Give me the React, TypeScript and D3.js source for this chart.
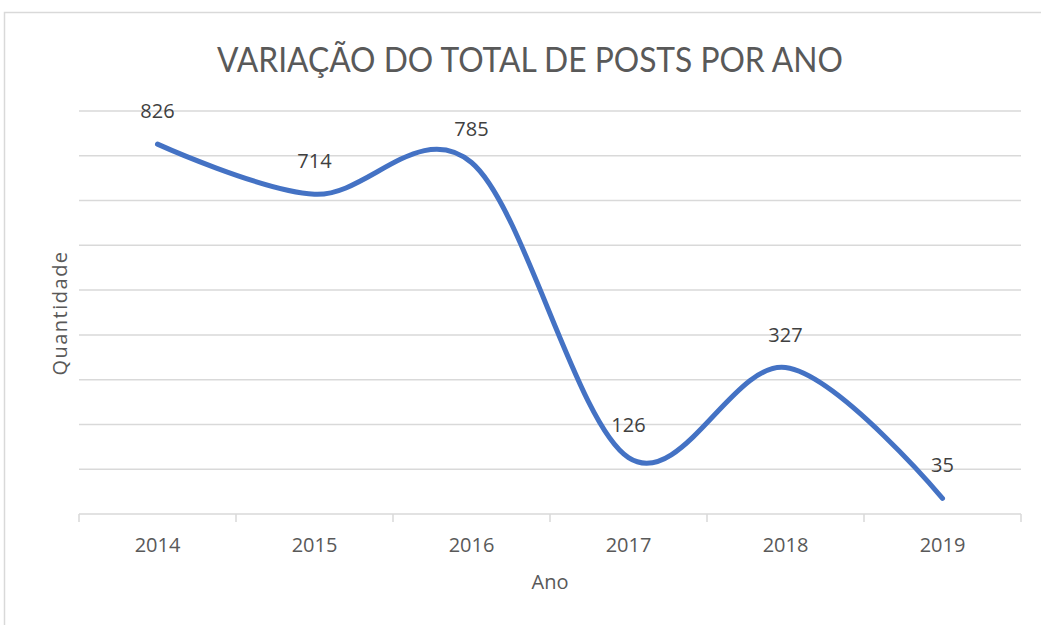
import React from 'react';
import * as d3 from 'd3';

// dados
const anos = ['2014', '2015', '2016', '2017', '2018', '2019'];
const totalPosts = [826, 714, 785, 126, 327, 35];
const gridValores = [0, 100, 200, 300, 400, 500, 600, 700, 800, 900];

const width = 1041;
const height = 625;
const plot = { left: 79, right: 1021, top: 111, bottom: 514 };
const font = '"Open Sans", "Noto Sans", sans-serif';
const textColor = '#595959';

export default function App() {
  const xScale = d3.scaleBand<string>()
    .domain(anos)
    .range([plot.left, plot.right])
    .padding(0);

  const yScale = d3.scaleLinear()
    .domain([0, 900])
    .range([plot.bottom, plot.top]);

  const xCenter = (a: string) => (xScale(a) ?? 0) + xScale.bandwidth() / 2;

  const points = anos.map((a, i) => [xCenter(a), yScale(totalPosts[i])] as [number, number]);
  const linePath = d3.line().curve(d3.curveCardinal.tension(0))(points) ?? '';

  const tickEdges = anos.map(a => xScale(a) ?? 0).concat([plot.right]);

  return (
    <svg width={width} height={height} style={{ position: 'absolute', left: 0, top: 0, background: '#fff' }}>
      <rect x={4.5} y={12.5} width={1100} height={700} fill="#fff" stroke="#d9d9d9" strokeWidth={1.5} />

      <text
        x={530}
        y={72}
        textAnchor="middle"
        fontFamily='Lato, "Open Sans", sans-serif'
        fontWeight={400}
        fontSize={35}
        fill={textColor}
        textLength={626}
        lengthAdjust="spacingAndGlyphs"
      >
        VARIAÇÃO DO TOTAL DE POSTS POR ANO
      </text>

      {/* linhas de grade */}
      {gridValores.map(v => (
        <line
          key={v}
          x1={plot.left}
          x2={plot.right}
          y1={yScale(v)}
          y2={yScale(v)}
          stroke="#d9d9d9"
          strokeWidth={1.5}
        />
      ))}

      {/* marcas do eixo x */}
      {tickEdges.map((x, i) => (
        <line key={i} x1={x} x2={x} y1={plot.bottom} y2={plot.bottom + 8} stroke="#d9d9d9" strokeWidth={1.5} />
      ))}

      {anos.map(a => (
        <text
          key={a}
          x={xCenter(a)}
          y={552}
          textAnchor="middle"
          fontFamily={font}
          fontSize={20}
          fill={textColor}
        >
          {a}
        </text>
      ))}

      <path d={linePath} fill="none" stroke="#4472C4" strokeWidth={5} strokeLinecap="round" />

      {anos.map((a, i) => (
        <text
          key={a}
          x={xCenter(a)}
          y={yScale(totalPosts[i]) - 26}
          textAnchor="middle"
          fontFamily={font}
          fontSize={20}
          fill="#404040"
        >
          {totalPosts[i]}
        </text>
      ))}

      <text x={550} y={589} textAnchor="middle" fontFamily={font} fontSize={20} fill={textColor}>
        Ano
      </text>
      <text
        transform="translate(67,313) rotate(-90)"
        textAnchor="middle"
        fontFamily={font}
        fontSize={20}
        letterSpacing={1.5}
        fill={textColor}
      >
        Quantidade
      </text>
    </svg>
  );
}
